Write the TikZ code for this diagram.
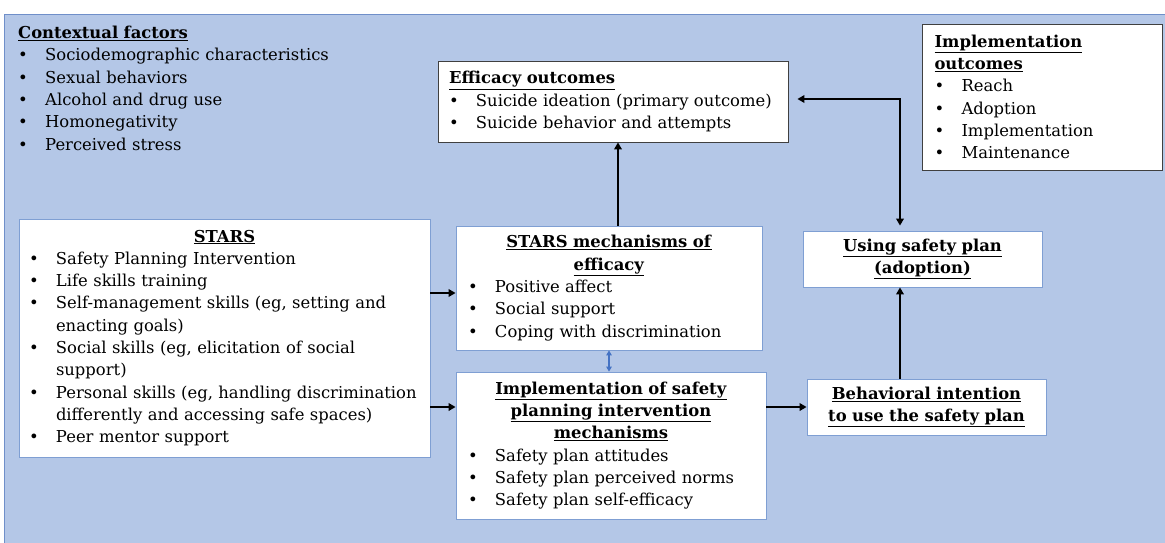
\documentclass[tikz,border=0pt]{standalone}
\usepackage{fontspec}
\setmainfont{DejaVu Serif}
\usetikzlibrary{arrows.meta,calc}
\definecolor{bgblue}{HTML}{B4C7E7}
\definecolor{bgedge}{HTML}{6F8FC9}
\definecolor{boxedge}{HTML}{7F9FD3}
\definecolor{dblarrow}{HTML}{4472C4}
\newcommand{\bxfont}{\fontsize{16.4}{22.3}\selectfont}
\newcommand{\hdu}[1]{\underline{\textbf{#1}}}
\newcommand{\itmb}[1]{\par\noindent\hangindent=27pt\hangafter=1\makebox[27pt][l]{\textbullet}#1}
\newcommand{\lhead}[1]{\noindent\hdu{#1}}
\newcommand{\chead}[1]{{\noindent\centering #1\par}}
\tikzset{
  wbox/.style={draw=boxedge, line width=0.8pt, fill=white, inner xsep=12pt, inner ysep=0pt, font=\bxfont, execute at begin node=\raggedright},
  kbox/.style={wbox, draw=black!75},
  cbox/.style={draw=boxedge, line width=0.8pt, fill=white, inner sep=0pt, font=\bxfont, align=center},
  arr/.style={line width=2.4pt, -{Triangle[length=7pt,width=7.5pt]}},
  darr/.style={line width=2.4pt, {Triangle[length=7pt,width=7.5pt]}-{Triangle[length=7pt,width=7.5pt]}},
  barr/.style={draw=dblarrow, line width=1.2pt, {Triangle[length=5pt,width=5.5pt]}-{Triangle[length=5pt,width=5.5pt]}}
}
\begin{document}
\begin{tikzpicture}[x=1pt,y=-1pt]
\useasboundingbox (0,0) rectangle (1165,543);
\fill[bgblue] (4,15) rectangle (1165,543);
\draw[bgedge, line width=1pt] (4,543) -- (4,15) -- (1165,15);

% contextual factors
\node[anchor=north west, inner sep=0pt, text width=420pt, font=\bxfont, execute at begin node=\raggedright] (ctx) at (18,26)
 {\lhead{Contextual factors}
  \itmb{Sociodemographic characteristics}
  \itmb{Sexual behaviors}
  \itmb{Alcohol and drug use}
  \itmb{Homonegativity}
  \itmb{Perceived stress}};

% efficacy outcomes
\node[kbox, inner xsep=11pt, text width=328pt, minimum height=81pt] (eff) at (613,101.5)
 {\lhead{Efficacy outcomes}
  \itmb{Suicide ideation (primary outcome)}
  \itmb{Suicide behavior and attempts}};

% implementation outcomes
\node[kbox, text width=216pt, minimum height=146pt] (iout) at (1042.5,97)
 {\lhead{Implementation}\par\lhead{outcomes}
  \itmb{Reach}
  \itmb{Adoption}
  \itmb{Implementation}
  \itmb{Maintenance}};

% STARS
\node[wbox, inner xsep=10pt, text width=391pt, minimum height=238pt] (stars) at (224.5,338)
 {\chead{\hdu{STARS}}
  \itmb{Safety Planning Intervention}
  \itmb{Life skills training}
  \itmb{Self-management skills (eg, setting and\newline enacting goals)}
  \itmb{Social skills (eg, elicitation of social\newline support)}
  \itmb{Personal skills (eg, handling discrimination\newline differently and accessing safe spaces)}
  \itmb{Peer mentor support}};

% STARS mechanisms
\node[wbox, text width=282pt, minimum height=124pt] (mech) at (609,288)
 {\chead{\hdu{STARS mechanisms of}\\\hdu{efficacy}}
  \itmb{Positive affect}
  \itmb{Social support}
  \itmb{Coping with discrimination}};

% implementation of safety planning
\node[wbox, text width=286pt, minimum height=147pt] (impl) at (611,445.5)
 {\chead{\hdu{Implementation of safety}\\\hdu{planning intervention}\\\hdu{mechanisms}}
  \itmb{Safety plan attitudes}
  \itmb{Safety plan perceived norms}
  \itmb{Safety plan self-efficacy}};

% using safety plan
\node[cbox, text width=239pt, minimum height=56pt] (use) at (922.5,259)
 {\hdu{Using safety plan}\\\hdu{(adoption)}};

% behavioral intention
\node[cbox, text width=239pt, minimum height=56pt] (beh) at (926.5,407)
 {\hdu{Behavioral intention}\\\hdu{to use the safety plan}};

\coordinate (jx) at (900,99);

% connectors
\draw[arr] (stars.east |- 0,293) -- (mech.west |- 0,293);
\draw[arr] (stars.east |- beh.west) -- (impl.west |- beh.west);
\draw[arr] (impl.east |- beh.west) -- (beh.west);
\draw[arr] (beh.north -| jx) -- (use.south -| jx);
\draw[arr] ($(mech.north)+(9,0)$) -- ($(eff.south)+(5,0)$);
\draw[darr, shorten <=9pt, shorten >=5pt] (eff.east |- jx) -- (jx) -- (use.north -| jx);
\draw[barr] (mech.south) -- (impl.north -| mech.south);
\end{tikzpicture}
\end{document}
